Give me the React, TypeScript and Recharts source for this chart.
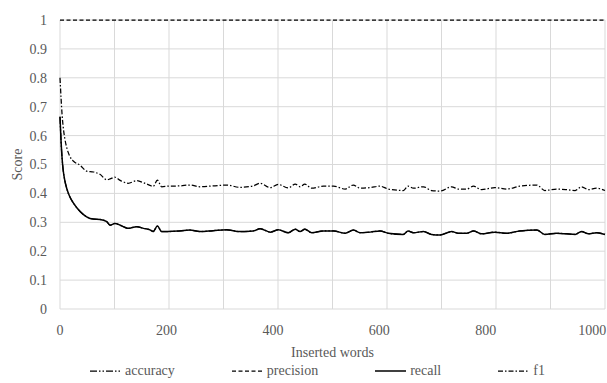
import { LineChart, Line, XAxis, YAxis, CartesianGrid, Legend } from 'recharts'

// x positions (inserted words)
const words = [
  0, 2, 4, 6, 9, 13, 18, 25, 38, 50, 63, 75, 88, 94, 103, 113, 119, 128, 144, 157, 169, 175, 183, 191, 203,
  225, 244, 263, 288, 313, 338, 363, 376, 395, 410, 429, 442, 451, 460, 473, 495, 514, 536, 551, 564, 583,
  601, 617, 645, 654, 664, 683, 698, 714, 736, 748, 764, 777, 792, 817, 839, 864, 896, 911, 933, 952, 968,
  980, 993, 1008, 1024,
]

const recall = [
  0.665, 0.58, 0.52, 0.48, 0.445, 0.415, 0.39, 0.367, 0.337, 0.319, 0.311, 0.31, 0.302, 0.29, 0.296, 0.29,
  0.285, 0.279, 0.285, 0.279, 0.274, 0.268, 0.287, 0.268, 0.268, 0.27, 0.273, 0.268, 0.271, 0.274, 0.268,
  0.27, 0.278, 0.266, 0.274, 0.264, 0.276, 0.268, 0.276, 0.264, 0.27, 0.27, 0.262, 0.273, 0.264, 0.266,
  0.27, 0.262, 0.258, 0.27, 0.264, 0.268, 0.258, 0.256, 0.268, 0.262, 0.262, 0.27, 0.26, 0.266, 0.262,
  0.27, 0.273, 0.258, 0.262, 0.26, 0.258, 0.268, 0.26, 0.264, 0.258,
]

// accuracy sits exactly under the recall line in the picture
const accuracy = [...recall]

const f1 = [
  0.8, 0.73, 0.67, 0.63, 0.59, 0.556, 0.53, 0.512, 0.497, 0.477, 0.474, 0.466, 0.447, 0.45, 0.456, 0.445,
  0.44, 0.435, 0.444, 0.437, 0.428, 0.424, 0.446, 0.423, 0.425, 0.426, 0.429, 0.423, 0.426, 0.429, 0.421,
  0.426, 0.435, 0.42, 0.431, 0.419, 0.432, 0.423, 0.432, 0.418, 0.425, 0.425, 0.415, 0.429, 0.418, 0.42,
  0.425, 0.415, 0.41, 0.425, 0.418, 0.423, 0.41, 0.408, 0.423, 0.415, 0.415, 0.425, 0.413, 0.42, 0.415,
  0.425, 0.429, 0.41, 0.415, 0.413, 0.41, 0.423, 0.413, 0.418, 0.41,
]

// precision is flat at 1 the whole way
const precision = words.map(() => 1)

const xTicks = [0, 200, 400, 600, 800, 1000]
const yTicks = [0, 0.1, 0.2, 0.3, 0.4, 0.5, 0.6, 0.7, 0.8, 0.9, 1]

const data = words.map((w, i) => ({
  words: w,
  accuracy: accuracy[i],
  precision: precision[i],
  recall: recall[i],
  f1: f1[i],
}))

const FONT = '"Liberation Serif", "Times New Roman", serif'
const TEXT = '#595959'

const seriesStyle = [
  { key: 'accuracy', dash: '7 2 1.5 2 1.5 2', width: 1.25 },
  { key: 'precision', dash: '4 2.5', width: 1.25 },
  { key: 'recall', dash: undefined, width: 1.5 },
  { key: 'f1', dash: '5 2 1.5 2', width: 1.25 },
]

const renderLegend = () => (
  <div
    style={{
      display: 'flex',
      justifyContent: 'center',
      alignItems: 'center',
      gap: 57,
      paddingLeft: 30,
      paddingTop: 4,
      height: 25,
      fontFamily: FONT,
      fontSize: 14,
      color: TEXT,
    }}
  >
    {seriesStyle.map((s) => (
      <span key={s.key} style={{ display: 'flex', alignItems: 'center' }}>
        <svg width={31} height={8}>
          <line x1={0} y1={4} x2={31} y2={4} stroke="#000" strokeWidth={s.width} strokeDasharray={s.dash} />
        </svg>
        <span style={{ marginLeft: 4 }}>{s.key}</span>
      </span>
    ))}
  </div>
)

export default function App() {
  return (
    <div style={{ width: 607, height: 383, background: '#fff' }}>
      <style>{'body{margin:0}'}</style>
      <LineChart width={607} height={383} data={data} margin={{ top: 20, right: 2, left: 0, bottom: 0 }}>
        <CartesianGrid
          stroke="#d9d9d9"
          verticalCoordinatesGenerator={({ offset }: any) =>
            Array.from({ length: 11 }, (_, i) => offset.left + (i * offset.width) / 10)
          }
        />
        <XAxis
          dataKey="words"
          type="number"
          domain={[0, 1024]}
          ticks={xTicks}
          axisLine={false}
          tickLine={false}
          tickSize={0}
          tickMargin={16}
          height={45}
          tick={{ fill: TEXT, fontFamily: FONT, fontSize: 14 }}
          label={{ value: 'Inserted words', position: 'insideBottom', offset: -3, fill: TEXT, fontFamily: FONT, fontSize: 14 }}
        />
        <YAxis
          domain={[0, 1]}
          ticks={yTicks}
          width={60}
          axisLine={false}
          tickLine={false}
          tickSize={0}
          tickMargin={13}
          tick={{ fill: TEXT, fontFamily: FONT, fontSize: 14 }}
          label={{
            value: 'Score',
            angle: -90,
            position: 'insideLeft',
            offset: 17,
            style: { textAnchor: 'middle', fill: TEXT, fontFamily: FONT, fontSize: 14 },
          }}
        />
        <Legend verticalAlign="bottom" content={renderLegend} />
        {seriesStyle.map((s) => (
          <Line
            key={s.key}
            dataKey={s.key}
            type="monotone"
            stroke="#000"
            strokeWidth={s.width}
            strokeDasharray={s.dash}
            dot={false}
            isAnimationActive={false}
          />
        ))}
      </LineChart>
    </div>
  )
}
